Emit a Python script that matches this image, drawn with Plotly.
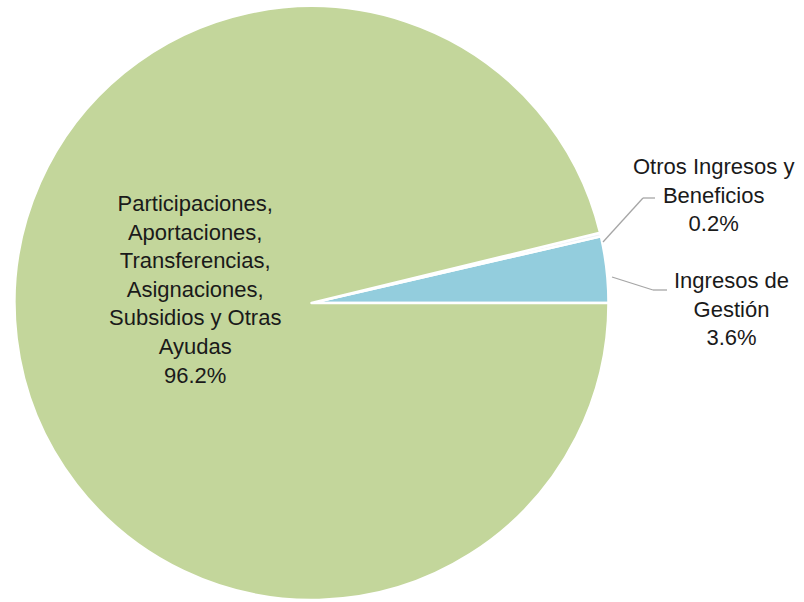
import plotly.graph_objects as go

labels = ["Ingresos de Gestión", "Otros Ingresos y Beneficios",
          "Participaciones, Aportaciones, Transferencias, Asignaciones, Subsidios y Otras Ayudas"]
values = [3.6, 0.2, 96.2]
label_lines = [["Ingresos de", "Gestión"],
               ["Otros Ingresos y", "Beneficios"],
               ["Participaciones,", "Aportaciones,", "Transferencias,", "Asignaciones,",
                "Subsidios y Otras", "Ayudas"]]
colors = ["#93CDDD", "#EEF3F8", "#C3D69B"]

W, H = 804, 602
def px(x, y):
    return x / W, 1 - y / H

# first slice starts at 3 o'clock and runs counterclockwise
rotation = 90 - 360 * values[0] / sum(values)

fig = go.Figure(go.Pie(
    labels=labels, values=values, sort=False, direction="counterclockwise",
    rotation=rotation, marker=dict(colors=colors, line=dict(color="white", width=2.5)),
    textinfo="none", hoverinfo="label+percent", showlegend=False,
    domain=dict(x=[14.5 / W, 608.5 / W], y=[2 / H, 1 - 6 / H]),
))

font = dict(family="Liberation Sans, Arial, sans-serif", size=22, color="#1a1a1a")
label_pos = [(731, 309), (713, 195), (195, 290)]
for lines, v, (x, y) in zip(label_lines, values, label_pos):
    ax, ay = px(x, y)
    fig.add_annotation(x=ax, y=ay, xref="paper", yref="paper", showarrow=False,
                       text="<br>".join(lines + [f"{v:.1f}%"]), font=font,
                       xanchor="center", yanchor="middle", align="center")

leaders = [[(612, 277), (653, 290), (667, 290)],
           [(603, 242), (643, 198), (655, 198)]]
for pts in leaders:
    for (x0, y0), (x1, y1) in zip(pts[:-1], pts[1:]):
        a0, b0 = px(x0, y0)
        a1, b1 = px(x1, y1)
        fig.add_shape(type="line", xref="paper", yref="paper", x0=a0, y0=b0, x1=a1, y1=b1,
                      line=dict(color="#A6A6A6", width=1.3))

fig.update_layout(width=W, height=H, margin=dict(l=0, r=0, t=0, b=0),
                  paper_bgcolor="white", plot_bgcolor="white")
fig.write_html("out.html", config={"displayModeBar": False},
               post_script="document.body.style.margin='0';")
